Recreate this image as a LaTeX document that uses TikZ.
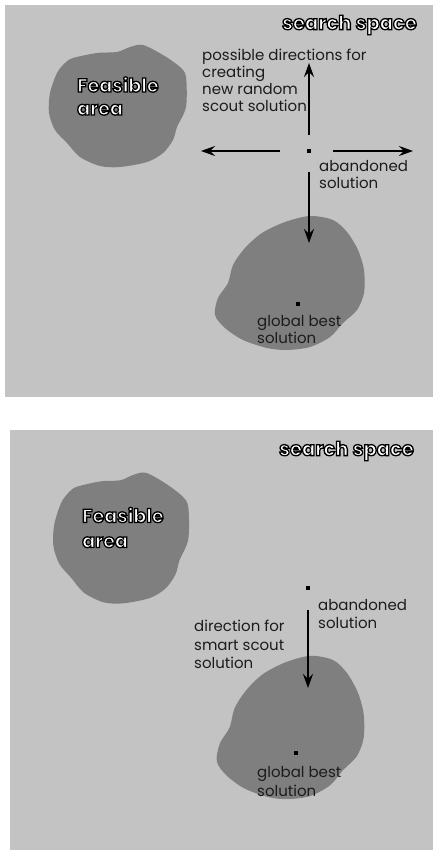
\documentclass[tikz,border=0pt]{standalone}
\usepackage{fontspec}
\setmainfont{Poppins}
\usetikzlibrary{arrows.meta}
\definecolor{spacegray}{RGB}{195,195,195}
\definecolor{areagray}{RGB}{128,127,128}
\definecolor{inkgray}{RGB}{28,28,28}
% white letters with a black rim
\newcommand{\outl}[1]{{\color{white}\special{pdf:literal direct 2 Tr 1.3 w 0 G}#1\special{pdf:literal direct 0 Tr}}}
\tikzset{
  panel/.style={fill=spacegray},
  blob/.style={fill=areagray},
  lbl/.style={text=inkgray, font=\fontsize{15}{17}\selectfont, align=left, inner sep=0pt},
  lbltall/.style={lbl, font=\fontsize{15}{18.5}\selectfont},
  title/.style={font=\fontsize{19.5}{19.5}\selectfont\bfseries, inner sep=0pt},
  feas/.style={font=\fontsize{19}{23}\selectfont\bfseries, align=left, inner sep=0pt},
  sol/.style={rectangle, fill=black, inner sep=0pt, minimum size=4pt},
  arr/.style={-{Stealth[length=14pt,width=10pt,inset=5pt]}, line width=1.6pt, black}
}
\begin{document}
\begin{tikzpicture}[x=1pt,y=-1pt]
\useasboundingbox (0,0) rectangle (433,851);
% the two search spaces
\fill[panel] (5,5) rectangle (433,397);
\fill[panel] (10,430) rectangle (433,850);
% feasible areas, same outline in both panels
\foreach \ox/\oy/\xs/\ys in {5/5/1/1,10/430/0.985/1.07} {
  \begin{scope}[shift={(\ox,\oy)},xscale=\xs,yscale=\ys]
    \fill[blob] plot[smooth cycle, tension=0.5] coordinates {
      (68,53) (92,48) (112,47) (125,42) (138,40) (158,50) (175,62) (181,72)
      (181,102) (172,122) (168,135) (158,148) (142,157) (115,162) (95,161)
      (75,152) (62,138) (50,125) (44,108) (45,88) (52,68) (60,58)};
    \fill[blob] plot[smooth cycle, tension=0.5] coordinates {
      (305,211) (328,215) (342,227) (353,245) (359,265) (359,288) (352,305)
      (338,318) (325,332) (305,342) (282,345) (262,343) (238,335) (220,323)
      (210,310) (213,293) (223,278) (228,260) (240,243) (257,228) (280,217)};
  \end{scope}
}
% top panel: random scout
\node[title, anchor=east] (space1) at (417,25) {\outl{search space}};
\node[feas, anchor=west] (feas1) at (77,96) {\outl{Feasible}\\\outl{area}};
\node[sol] (aband1) at (309,151) {};
\node[sol] (best1) at (298,304) {};
\coordinate (up1) at (309,63);
\coordinate (left1) at (201,151);
\coordinate (right1) at (413,151);
\coordinate (down1) at (309,243);
\draw[arr, shorten <=14pt] (aband1) -- (up1);
\draw[arr, shorten <=27pt] (aband1) -- (left1);
\draw[arr, shorten <=22pt] (aband1) -- (right1);
\draw[arr, shorten <=19pt] (aband1) -- (down1);
\node[lbl, anchor=west] (poss1) at (202,80.5) {possible directions for\\creating\\new random\\scout solution};
\node[lbl, anchor=west] (abandtxt1) at (319,175) {abandoned\\solution};
\node[lbl, anchor=west] (besttxt1) at (257,329.5) {global best\\solution};
% bottom panel: smart scout
\node[title, anchor=east] (space2) at (414,451) {\outl{search space}};
\node[feas, anchor=west] (feas2) at (82,527.5) {\outl{Feasible}\\[2pt]\outl{area}};
\node[sol] (aband2) at (308,588) {};
\node[sol] (best2) at (296,753) {};
\coordinate (down2) at (308,688);
\draw[arr, shorten <=20pt] (aband2) -- (down2);
\node[lbltall, anchor=west] (abandtxt2) at (318,614) {abandoned\\solution};
\node[lbltall, anchor=west] (smart2) at (194,644.5) {direction for\\smart scout\\solution};
\node[lbltall, anchor=west] (besttxt2) at (257,781.5) {global best\\solution};
\end{tikzpicture}
\end{document}
